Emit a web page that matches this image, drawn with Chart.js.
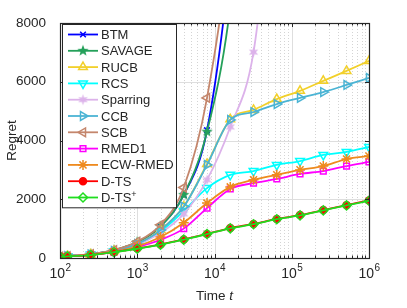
<!DOCTYPE html>
<html>
<head>
<meta charset="utf-8">
<script src="https://cdn.jsdelivr.net/npm/chart.js@4.4.0/dist/chart.umd.min.js"></script>
<style>
  html, body { margin: 0; padding: 0; background: #fff; }
  canvas { display: block; }
</style>
</head>
<body>
<canvas id="regretChart" width="407" height="308"></canvas>
<script>
// time horizon points (x axis, log)
var times = [100, 125, 250, 500, 1000, 2000, 4000, 8000, 16000, 32000, 64000, 128000, 256000, 512000, 1000000];
var xDecades = [100, 1000, 10000, 100000, 1000000];
var yTicks = [0, 2000, 4000, 6000, 8000];

// regret of each algorithm
var names = ['BTM', 'SAVAGE', 'RUCB', 'RCS', 'Sparring', 'CCB', 'SCB', 'RMED1', 'ECW-RMED', 'D-TS', 'D-TS+'];
var btm      = [50, 65, 130, 260, 520, 1080, 2150, 4350, 10200, 20000, null, null, null, null, null];
var savage   = [50, 65, 130, 270, 540, 1080, 2150, 4300, 8550, 17000, null, null, null, null, null];
var rucb     = [45, 60, 120, 240, 480, 960, 1750, 3200, 4720, 5040, 5410, 5690, 6030, 6370, 6710];
var rcs      = [45, 60, 115, 230, 450, 900, 1600, 2380, 2830, 2960, 3170, 3300, 3510, 3610, 3780];
var sparring = [48, 60, 120, 240, 470, 850, 1500, 2660, 4460, 7010, 14000, null, null, null, null];
var ccb      = [45, 60, 120, 240, 480, 950, 1750, 3170, 4700, 4970, 5240, 5450, 5650, 5890, 6130];
var scb      = [50, 65, 130, 270, 560, 1130, 2400, 5450, 11200, 22000, null, null, null, null, null];
var rmed1    = [42, 58, 108, 210, 370, 620, 1000, 1700, 2350, 2550, 2690, 2860, 2960, 3130, 3270];
var ecwRmed  = [42, 58, 110, 215, 400, 715, 1200, 1870, 2420, 2660, 2830, 3000, 3130, 3370, 3470];
var dts      = [40, 60, 100, 200, 320, 460, 630, 820, 1020, 1160, 1330, 1460, 1630, 1800, 1960];
var dtsPlus  = [40, 58, 98, 196, 315, 455, 625, 815, 1010, 1150, 1320, 1450, 1620, 1790, 1950];

var series = [btm, savage, rucb, rcs, sparring, ccb, scb, rmed1, ecwRmed, dts, dtsPlus];
var colors = ['#0000ff', '#24a05a', '#f2d02a', '#00ffff', '#dcb2ea', '#4bb4d4', '#c4866c', '#ff00ff', '#ee8a1e', '#ff0000', '#1fdd1f'];

// filled star markers (pentagram / hexagram) drawn on small canvases
function starMarker(color, points, r) {
    var c = document.createElement('canvas');
    var s = Math.ceil(r * 2 + 2);
    c.width = s; c.height = s;
    var g = c.getContext('2d');
    g.beginPath();
    for (var i = 0; i < points * 2; i++) {
        var rad = (i % 2 === 0) ? r : r * 0.42;
        var a = -Math.PI / 2 + i * Math.PI / points;
        var px = s / 2 + rad * Math.cos(a), py = s / 2 + rad * Math.sin(a);
        if (i === 0) g.moveTo(px, py); else g.lineTo(px, py);
    }
    g.closePath();
    g.fillStyle = color;
    g.fill();
    return c;
}

var markers = [
    {style: 'crossRot', rot: 0, r: 4, fill: false},
    {style: starMarker(colors[1], 5, 6), rot: 0, r: 6, fill: true},
    {style: 'triangle', rot: 0, r: 5, fill: false},
    {style: 'triangle', rot: 180, r: 5, fill: false},
    {style: starMarker(colors[4], 6, 5.5), rot: 0, r: 5, fill: true},
    {style: 'triangle', rot: 90, r: 5, fill: false},
    {style: 'triangle', rot: -90, r: 5, fill: false},
    {style: 'rect', rot: 0, r: 4, fill: false},
    {style: 'star', rot: 0, r: 5, fill: false},
    {style: 'circle', rot: 0, r: 3.5, fill: true},
    {style: 'rectRot', rot: 0, r: 4.5, fill: false}
];

var datasets = series.map(function (vals, i) {
    return {
        label: names[i],
        data: times.map(function (t, k) { return {x: t, y: vals[k]}; }),
        borderColor: colors[i],
        backgroundColor: markers[i].fill ? colors[i] : 'rgba(0,0,0,0)',
        borderWidth: 1.8,
        pointStyle: markers[i].style,
        pointRotation: markers[i].rot,
        pointRadius: markers[i].r,
        pointBorderWidth: 1.5,
        cubicInterpolationMode: 'monotone',
        spanGaps: false,
        order: series.length - i
    };
});

var FONT = '"Liberation Sans", Arial, sans-serif';
var TXT = '#262626';

// grid lines behind the curves
var gridPlugin = {
    id: 'gridPlugin',
    beforeDatasetsDraw: function (chart) {
        var ctx = chart.ctx, a = chart.chartArea;
        var xs = chart.scales.x, ys = chart.scales.y;
        ctx.save();
        ctx.lineWidth = 1;
        // minor dotted
        ctx.strokeStyle = '#d4d4d4';
        ctx.setLineDash([1, 2]);
        for (var d = 100; d < 1000000; d *= 10) {
            for (var m = 2; m <= 9; m++) {
                var px = Math.round(xs.getPixelForValue(d * m)) + 0.5;
                ctx.beginPath(); ctx.moveTo(px, a.top); ctx.lineTo(px, a.bottom); ctx.stroke();
            }
        }
        ctx.setLineDash([]);
        ctx.strokeStyle = '#dedede';
        xDecades.forEach(function (v) {
            var px = Math.round(xs.getPixelForValue(v)) + 0.5;
            ctx.beginPath(); ctx.moveTo(px, a.top); ctx.lineTo(px, a.bottom); ctx.stroke();
        });
        yTicks.forEach(function (v) {
            var py = Math.round(ys.getPixelForValue(v)) + 0.5;
            ctx.beginPath(); ctx.moveTo(a.left, py); ctx.lineTo(a.right, py); ctx.stroke();
        });
        ctx.restore();
    },
    afterDatasetsDraw: function (chart) {
        var ctx = chart.ctx, a = chart.chartArea;
        var xs = chart.scales.x, ys = chart.scales.y;
        ctx.save();
        ctx.strokeStyle = TXT;
        ctx.lineWidth = 1;
        // tick marks pointing inward
        for (var d = 100; d <= 1000000; d *= 10) {
            for (var m = 1; m <= 9; m++) {
                if (d * m > 1000000) break;
                var px = Math.round(xs.getPixelForValue(d * m)) + 0.5;
                var len = m === 1 ? 4 : 2.5;
                ctx.beginPath();
                ctx.moveTo(px, a.bottom); ctx.lineTo(px, a.bottom - len);
                ctx.moveTo(px, a.top); ctx.lineTo(px, a.top + len);
                ctx.stroke();
            }
        }
        yTicks.forEach(function (v) {
            var py = Math.round(ys.getPixelForValue(v)) + 0.5;
            ctx.beginPath();
            ctx.moveTo(a.left, py); ctx.lineTo(a.left + 4, py);
            ctx.moveTo(a.right, py); ctx.lineTo(a.right - 4, py);
            ctx.stroke();
        });
        ctx.lineWidth = 1.2;
        ctx.strokeRect(Math.round(a.left) + 0.5, Math.round(a.top) + 0.5, Math.round(a.right - a.left), Math.round(a.bottom - a.top));

        // x tick labels 10^n
        ctx.fillStyle = TXT;
        ctx.textBaseline = 'alphabetic';
        xDecades.forEach(function (v) {
            var e = String(Math.round(Math.log10(v)));
            ctx.font = '14px ' + FONT;
            var w1 = ctx.measureText('10').width;
            ctx.font = '10px ' + FONT;
            var w2 = ctx.measureText(e).width;
            var x0 = xs.getPixelForValue(v) - (w1 + w2) / 2;
            ctx.font = '14px ' + FONT;
            ctx.textAlign = 'left';
            ctx.fillText('10', x0, 278);
            ctx.font = '10px ' + FONT;
            ctx.fillText(e, x0 + w1 + 0.5, 271);
        });

        // axis titles
        ctx.font = '13.5px ' + FONT;
        var w = ctx.measureText('Time ').width;
        ctx.font = 'italic 13.5px ' + FONT;
        var wt = ctx.measureText('t').width;
        var cx = (a.left + a.right) / 2;
        ctx.textAlign = 'left';
        ctx.font = '13.5px ' + FONT;
        ctx.fillText('Time ', cx - (w + wt) / 2, 300);
        ctx.font = 'italic 13.5px ' + FONT;
        ctx.fillText('t', cx - (w + wt) / 2 + w, 300);

        ctx.translate(12, (a.top + a.bottom) / 2);
        ctx.rotate(-Math.PI / 2);
        ctx.textAlign = 'center';
        ctx.textBaseline = 'middle';
        ctx.font = '13.5px ' + FONT;
        ctx.fillText('Regret', 0, 0);
        ctx.restore();
    }
};

// legend box inside the plot, upper left
var legendPlugin = {
    id: 'boxLegend',
    afterDraw: function (chart) {
        var ctx = chart.ctx, a = chart.chartArea;
        var left = a.left + 2, top = a.top + 1, width = 114, rowH = 16.3;
        var height = rowH * names.length + 4;
        ctx.save();
        ctx.fillStyle = '#ffffff';
        ctx.fillRect(left, top, width, height);
        ctx.strokeStyle = TXT;
        ctx.lineWidth = 1;
        ctx.strokeRect(left + 0.5, top + 0.5, width, height);
        chart.data.datasets.forEach(function (ds, i) {
            var y = top + 10.5 + i * rowH;
            ctx.strokeStyle = ds.borderColor;
            ctx.lineWidth = 1.8;
            ctx.beginPath(); ctx.moveTo(left + 6, y); ctx.lineTo(left + 36, y); ctx.stroke();
            ctx.fillStyle = ds.backgroundColor;
            ctx.lineWidth = 1.5;
            Chart.helpers.drawPoint(ctx, {
                pointStyle: ds.pointStyle, radius: ds.pointRadius,
                rotation: ds.pointRotation, borderWidth: 1.5
            }, left + 21, y);
            ctx.fillStyle = TXT;
            ctx.font = '13px ' + FONT;
            ctx.textAlign = 'left';
            ctx.textBaseline = 'middle';
            if (ds.label === 'D-TS+') {
                ctx.fillText('D-TS', left + 39, y + 1);
                var wd = ctx.measureText('D-TS').width;
                ctx.font = '9px ' + FONT;
                ctx.fillText('+', left + 39 + wd, y - 3);
            } else {
                ctx.fillText(ds.label, left + 39, y + 1);
            }
        });
        ctx.restore();
    }
};

var ctx = document.getElementById('regretChart').getContext('2d');
var regretChart = new Chart(ctx, {
    type: 'line',
    data: { datasets: datasets },
    options: {
        responsive: false,
        animation: false,
        layout: { padding: { top: 23, right: 38, left: 0, bottom: 0 } },
        plugins: { legend: { display: false }, tooltip: { enabled: false } },
        scales: {
            x: {
                type: 'logarithmic',
                min: 100, max: 1000000,
                grid: { display: false },
                border: { display: false },
                ticks: { display: false },
                afterFit: function (s) { s.height = 50; }
            },
            y: {
                min: 0, max: 8000,
                grid: { display: false },
                border: { display: false },
                afterBuildTicks: function (s) { s.ticks = yTicks.map(function (v) { return {value: v}; }); },
                ticks: {
                    color: TXT, font: { family: FONT, size: 13.5 }, padding: 6,
                    callback: function (v) { return String(v); }
                },
                afterFit: function (s) { s.width = 60; }
            }
        }
    },
    plugins: [gridPlugin, legendPlugin]
});
</script>
</body>
</html>
